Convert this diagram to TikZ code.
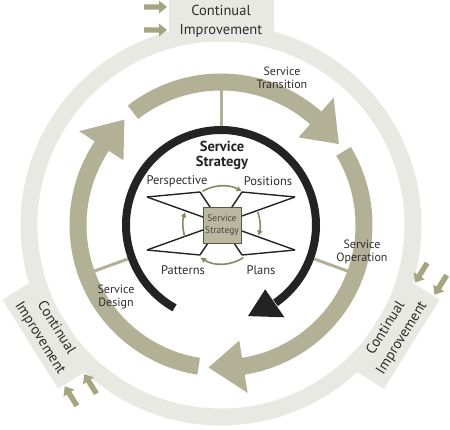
\documentclass[tikz,border=0pt]{standalone}
\usepackage{fontspec}
\setmainfont{PT Sans}
\usetikzlibrary{calc,arrows.meta}
\definecolor{pale}{RGB}{233,233,228}
\definecolor{olive}{RGB}{178,177,150}
\definecolor{arrowolive}{RGB}{165,165,128}
\definecolor{darkolive}{RGB}{135,138,95}
\definecolor{ink}{RGB}{35,35,35}
\definecolor{txt}{RGB}{45,45,45}
\definecolor{boxfill}{RGB}{186,184,160}
\newcommand{\ringarrow}[3]{%
  \fill[olive] ($(C)+(#1:151.5)$) arc[start angle=#1, end angle=#2, radius=151.5]
    -- ($(C)+(#2:170)$) -- ($(C)+(#3:143)$) -- ($(C)+(#2:117)$)
    -- ($(C)+(#2:134.5)$) arc[start angle=#2, end angle=#1, radius=134.5] -- cycle;}
\newcommand{\ciarrow}[1]{%
  \fill[arrowolive] (-77,#1-2.7) -- (-62,#1-2.7) -- (-62,#1-6.5) -- (-54,#1)
    -- (-62,#1+6.5) -- (-62,#1+2.7) -- (-77,#1+2.7) -- cycle;}
\begin{document}
\begin{tikzpicture}[x=1pt,y=1pt,
  lbl/.style={font=\fontsize{12}{13.5}\selectfont, text=txt, align=center, inner sep=0pt},
  ci/.style={font=\fontsize{14.5}{19}\selectfont, text=txt, align=center, inner sep=0pt},
  quad/.style={font=\fontsize{12.5}{14}\selectfont, text=txt, inner sep=0pt},
  spoke/.style={draw=olive, line width=3pt},
  bow/.style={draw=ink, line width=1.4pt},
  cyc/.style={draw=darkolive, line width=1.6pt, -{Triangle[length=5pt,width=5pt]}},
]
\useasboundingbox (0,0) rectangle (450,-429);
\coordinate (C) at (221,-225);
\coordinate (B) at (222,-225);

% outer pale ring with Continual Improvement boxes
\draw[pale, line width=17pt] (C) circle[radius=192];
\foreach \a in {90,212,328}{
  \begin{scope}[shift={(C)}, rotate=\a-90]
    \fill[pale] (-52.5,183) rectangle (52.5,225);
    \ciarrow{218}
    \ciarrow{195}
  \end{scope}
}
\node[ci] (ci1) at ($(C)+(90:204)$) {Continual\\Improvement};
\node[ci, rotate=-58] (ci2) at ($(C)+(212:204)$) {Continual\\Improvement};
\node[ci, rotate=58] (ci3) at ($(C)+(328:204)$) {Continual\\Improvement};

% lifecycle ring arrows
\ringarrow{261}{146.5}{132.5}
\ringarrow{128}{48.5}{34.5}
\ringarrow{31}{-81}{-95}

% spokes
\foreach \a in {90,200,340}{
  \draw[spoke] ($(C)+(\a:99)$) -- ($(C)+(\a:135)$);
}

% black strategy arc
\draw[ink, line width=8pt] ($(C)+(240.7:95)$) arc[start angle=240.7, end angle=-55, radius=95];
\fill[ink] ($(C)+(-55.5:78)$) -- ($(C)+(-55.5:112)$) -- ($(C)+(-73.5:95)$) -- cycle;

% bow tie
\coordinate (L1) at (147,-197);
\coordinate (L2) at (147,-250);
\coordinate (R1) at (295,-197);
\coordinate (R2) at (295,-250);
\coordinate (TL) at (200,-192);
\coordinate (TR) at (242,-192);
\coordinate (BL) at (200,-255);
\coordinate (BR) at (242,-255);
\draw[bow] (L1) -- (TL);
\draw[bow] (TR) -- (R1);
\draw[bow] (L2) -- (BL);
\draw[bow] (BR) -- (R2);
\draw[bow] (L1) -- (R2);
\draw[bow] (L2) -- (R1);
\draw[bow] (TL) -- (BR);
\draw[bow] (TR) -- (BL);

\node[draw={rgb,255:red,85;green,85;blue,75}, line width=1pt, fill=boxfill,
  minimum width=38pt, minimum height=36pt, inner sep=0pt, align=center,
  font=\fontsize{9.5}{11.5}\selectfont, text={rgb,255:red,70;green,70;blue,60}]
  (box) at (B) {Service\\Strategy};

% small cycle arcs
\draw[cyc] ($(B)+(120:39)$) arc[start angle=120, end angle=60, radius=39];
\draw[cyc] ($(B)+(20:38)$) arc[start angle=20, end angle=-16, radius=38];
\draw[cyc] ($(B)+(-57:39)$) arc[start angle=-57, end angle=-123, radius=39];
\draw[cyc] ($(B)+(197:39)$) arc[start angle=197, end angle=161, radius=39];

% labels
\node[lbl] (tr) at (282,-78) {Service\\Transition};
\node[lbl] (op) at (362,-252) {Service\\Operation};
\node[lbl] (de) at (116,-297) {Service\\Design};
\node[font=\bfseries\fontsize{14.5}{15}\selectfont, text=ink, align=center, inner sep=0pt]
  (ss) at (222,-155) {Service\\Strategy};
\node[quad] (pe) at (177,-181) {Perspective};
\node[quad] (po) at (268,-181) {Positions};
\node[quad] (pa) at (183,-270) {Patterns};
\node[quad] (pl) at (261,-270) {Plans};
\end{tikzpicture}
\end{document}
